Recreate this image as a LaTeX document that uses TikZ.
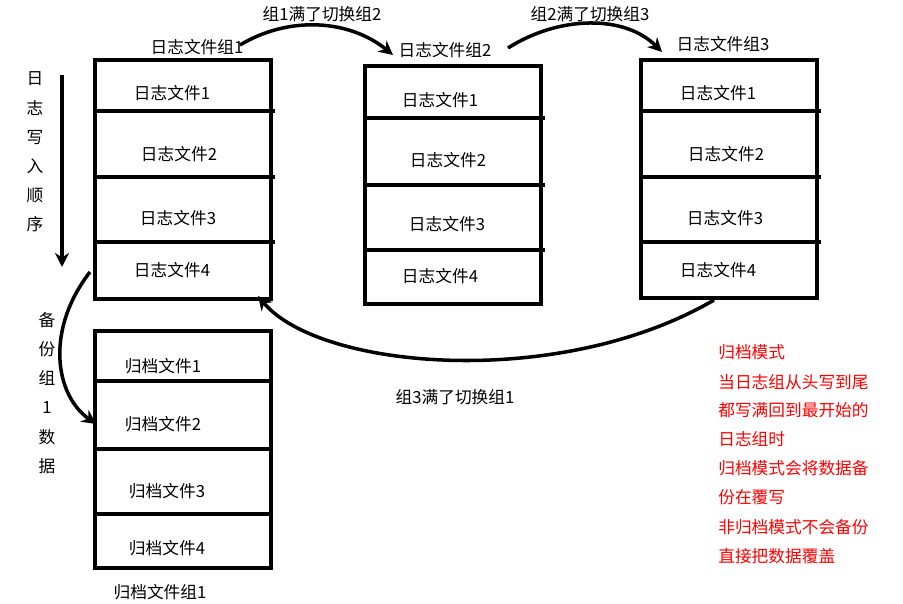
\documentclass[tikz,border=0pt]{standalone}
\usepackage{fontspec}
\setmainfont{Noto Sans CJK SC}
\usetikzlibrary{arrows.meta}
\begin{document}
\begin{tikzpicture}[x=0.02cm,y=-0.02cm,
  box/.style={line width=2.2pt},
  lbl/.style={font=\fontsize{9.5}{11}\selectfont,inner sep=0},
  vlbl/.style={inner sep=0,align=center,font=\fontsize{9.5}{16.6}\selectfont},
  red/.style={lbl,text=red,anchor=west},
  arr/.style={line width=2pt,-{Stealth[length=8pt,width=8pt]}}]
\useasboundingbox (0,0) rectangle (903,604);
% group 1
\draw[box] (95,60) rectangle (271,299);
\foreach \y in {111,177,242} \draw[box] (95,\y) -- (275,\y);
\node[lbl] (g1) at (197,47) {日志文件组1};
\node[lbl] (a1) at (172,93) {日志文件1};
\node[lbl] (a2) at (179,154) {日志文件2};
\node[lbl] (a3) at (178,218) {日志文件3};
\node[lbl] (a4) at (172,270) {日志文件4};
% group 2
\draw[box] (365,66) rectangle (541,304);
\foreach \y in {118,185,250} \draw[box] (365,\y) -- (545,\y);
\node[lbl] (g2) at (445,50) {日志文件组2};
\node[lbl] (b1) at (440,100) {日志文件1};
\node[lbl] (b2) at (448,160) {日志文件2};
\node[lbl] (b3) at (447,224) {日志文件3};
\node[lbl] (b4) at (440,276) {日志文件4};
% group 3
\draw[box] (641,60) rectangle (817,298);
\foreach \y in {111,177,242} \draw[box] (641,\y) -- (821,\y);
\node[lbl] (g3) at (723,44) {日志文件组3};
\node[lbl] (c1) at (718,93) {日志文件1};
\node[lbl] (c2) at (726,154) {日志文件2};
\node[lbl] (c3) at (725,218) {日志文件3};
\node[lbl] (c4) at (718,270) {日志文件4};
% archive
\draw[box] (95,331) rectangle (271,568);
\foreach \y in {381,449,514} \draw[box] (95,\y) -- (271,\y);
\node[lbl] (d1) at (163,366) {归档文件1};
\node[lbl] (d2) at (163,424) {归档文件2};
\node[lbl] (d3) at (167,491) {归档文件3};
\node[lbl] (d4) at (167,548) {归档文件4};
\node[lbl] (ag) at (160,592) {归档文件组1};
% vertical texts
\node[vlbl] (v1) at (35,152) {日\\志\\写\\入\\顺\\序};
\node[vlbl] (v2) at (47,393) {备\\份\\组\\1\\数\\据};
% arrows
\coordinate (s0) at (62,75); \coordinate (e0) at (62,267);
\draw[arr] (s0) -- (e0);
\coordinate (s1) at (240,45); \coordinate (e1) at (393,55);
\draw[arr] (s1) .. controls (290,15) and (350,20) .. (e1);
\coordinate (s2) at (508,48); \coordinate (e2) at (662,52);
\draw[arr] (s2) .. controls (560,15) and (625,15) .. (e2);
\coordinate (s3) at (714,300); \coordinate (e3) at (258,296);
\draw[arr] (s3) .. controls (560,390) and (320,370) .. (e3);
\coordinate (s4) at (90,272); \coordinate (e4) at (96,424);
\draw[arr] (s4) .. controls (45,330) and (55,395) .. (e4);
\node[lbl] (t1) at (322,14) {组1满了切换组2};
\node[lbl] (t2) at (590,14) {组2满了切换组3};
\node[lbl] (t3) at (455,397) {组3满了切换组1};
% red note
\node[red] (r1) at (718,352) {归档模式};
\node[red] (r2) at (718,382) {当日志组从头写到尾};
\node[red] (r3) at (718,410) {都写满回到最开始的};
\node[red] (r4) at (718,439) {日志组时};
\node[red] (r5) at (718,468) {归档模式会将数据备};
\node[red] (r6) at (718,497) {份在覆写};
\node[red] (r7) at (718,527) {非归档模式不会备份};
\node[red] (r8) at (718,556) {直接把数据覆盖};
\end{tikzpicture}
\end{document}
